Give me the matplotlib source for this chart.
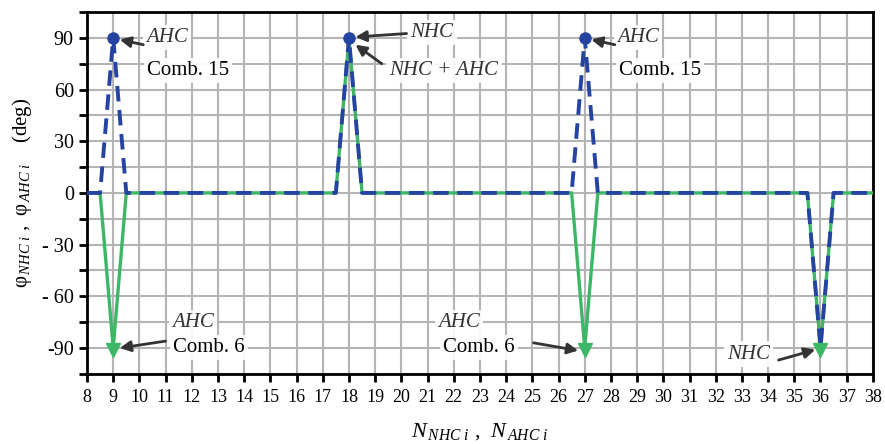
import matplotlib.pyplot as plt
import numpy as np

# ---------------- DATA ---------------- #
x_pts = [8, 8.5, 9, 9.5, 17.5, 18, 18.5, 26.5, 27, 27.5, 35.5, 36, 36.5, 38]
phi_nhc = [0, 0, -90, 0, 0, 90, 0, 0, -90, 0, 0, -90, 0, 0]
phi_ahc = [0, 0, 90, 0, 0, 90, 0, 0, 90, 0, 0, -90, 0, 0]

x_ticks = list(range(8, 39))
y_ticks = [90, 60, 30, 0, -30, -60, -90]
y_tick_labels = ["90", "60", "30", "0", "- 30", "- 60", "-90"]

green = "#3cb765"
blue = "#2543a0"
arrow_col = "#333333"

plt.rcParams["font.family"] = "Liberation Serif"
plt.rcParams["mathtext.fontset"] = "custom"
plt.rcParams["mathtext.rm"] = "Liberation Serif"
plt.rcParams["mathtext.it"] = "Liberation Serif:italic"

fig = plt.figure(figsize=(8.85, 4.44), dpi=100)
ax = fig.add_axes([0.0983, 0.158, 0.888, 0.815])

# grid
ax.set_xticks(x_ticks)
ax.set_yticks(y_ticks)
ax.set_yticks(np.arange(-105, 106, 15), minor=True)
ax.grid(True, which="both", color="#b4b4b4", linewidth=1.5, zorder=0)
ax.set_axisbelow(True)

# lines
ax.plot(x_pts, phi_nhc, color=green, linewidth=2.4, zorder=3)
ax.plot(x_pts, phi_ahc, color=blue, linewidth=2.8, dashes=(4, 2.2), zorder=4)

# markers
for xv, nv, av in zip(x_pts, phi_nhc, phi_ahc):
    if nv == -90:
        ax.plot(xv, nv - 1, marker="v", color=green, markersize=10, zorder=5)
    if av == 90:
        ax.plot(xv, av, marker="o", color=blue, markersize=8, zorder=6)

ax.set_xlim(8, 38)
ax.set_ylim(-105, 105)
ax.set_yticklabels(y_tick_labels, fontsize=14.5)
ax.set_xticklabels([str(v) for v in x_ticks], fontsize=13)
ax.tick_params(axis="both", which="both", direction="out", length=6, width=2, color="black")
ax.tick_params(axis="x", pad=5)
for s in ax.spines.values():
    s.set_linewidth(2)

ax.set_ylabel(r"φ$_{\,NHC\ i}$ ,  φ$_{\,AHC\ i}$    (deg)", fontsize=15, labelpad=6)
ax.set_xlabel(r"$N_{\,NHC\ i}$ ,  $N_{\,AHC\ i}$", fontsize=16, labelpad=11)

# ---------------- ANNOTATIONS ---------------- #
box = dict(boxstyle="square,pad=0.15", facecolor="white", edgecolor="none", alpha=0.9)
aprops = dict(arrowstyle="-|>", color=arrow_col, lw=2, mutation_scale=16, shrinkA=0, shrinkB=0)


def label(x, y, s, italic=False, color="black"):
    ax.text(x, y, s, fontsize=15, style="italic" if italic else "normal",
            color=color, ha="left", va="center", bbox=box, zorder=7)


def arrow(x0, y0, x1, y1):
    ax.annotate("", xy=(x1, y1), xytext=(x0, y0), arrowprops=aprops, zorder=8)


label(10.25, 90, "AHC", italic=True, color=arrow_col)
label(10.3, 71, "Comb. 15")
arrow(10.15, 86, 9.25, 89)

label(20.35, 93, "NHC", italic=True, color=arrow_col)
arrow(20.2, 92.5, 18.25, 90.5)
label(19.55, 71, "NHC + AHC", italic=True, color=arrow_col)
arrow(19.25, 75, 18.25, 86)

label(28.25, 90, "AHC", italic=True, color=arrow_col)
label(28.3, 71, "Comb. 15")
arrow(28.15, 86, 27.25, 89)

label(11.25, -75, "AHC", italic=True, color=arrow_col)
label(11.3, -89.5, "Comb. 6")
arrow(11.0, -86, 9.25, -90)

label(21.4, -75, "AHC", italic=True, color=arrow_col)
label(21.6, -89.5, "Comb. 6")
arrow(25.05, -87, 26.75, -91.5)

label(32.45, -93.5, "NHC", italic=True, color=arrow_col)
arrow(34.4, -97, 35.8, -91)

fig.savefig("out.png", dpi=100)
